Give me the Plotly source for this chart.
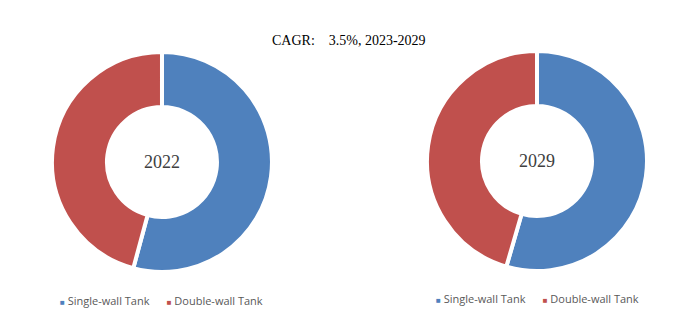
import plotly.graph_objects as go

categories = ["Single-wall Tank", "Double-wall Tank"]
values_2022 = [54.2, 45.8]
values_2029 = [54.5, 45.5]
years = ["2022", "2029"]
title_text = "CAGR:    3.5%, 2023-2029"
colors = ["#4F81BD", "#C0504D"]

serif = "Book Antiqua, Palatino Linotype, Liberation Serif, DejaVu Serif, serif"
sans = "Open Sans, Liberation Sans, sans-serif"

fig = go.Figure()
domains = [
    dict(x=[0.0746, 0.3902], y=[0.1553, 0.8385]),
    dict(x=[0.6126, 0.9283], y=[0.1584, 0.8416]),
]
legend_y = [1 - 300 / 322, 1 - 298 / 322]
for vals, dom, yr, ly in zip([values_2022, values_2029], domains, years, legend_y):
    fig.add_trace(go.Pie(
        labels=categories, values=vals, hole=0.5, sort=False,
        direction="clockwise", rotation=0, domain=dom,
        marker=dict(colors=colors, line=dict(color="white", width=4)),
        textinfo="none", hoverinfo="label+percent", showlegend=False,
    ))
    cx = (dom["x"][0] + dom["x"][1]) / 2
    cy = (dom["y"][0] + dom["y"][1]) / 2
    fig.add_annotation(x=cx, y=cy, xref="paper", yref="paper", text=yr,
                       xanchor="center", yanchor="middle",
                       showarrow=False, font=dict(family=serif, size=18, color="#404040"))
    legend_text = "      ".join(
        f"<span style='color:{c};font-size:8px'>■</span> {cat}" for c, cat in zip(colors, categories)
    )
    fig.add_annotation(x=cx, y=ly, xref="paper", yref="paper",
                       xanchor="center", yanchor="middle",
                       text=legend_text, showarrow=False,
                       font=dict(family=sans, size=11, color="#595959"))

fig.add_annotation(x=0.5, y=1 - 40 / 322, xref="paper", yref="paper", text=title_text,
                   xanchor="center", yanchor="middle",
                   showarrow=False, font=dict(family=serif, size=14, color="#000000"))

fig.update_layout(width=697, height=322, margin=dict(l=0, r=0, t=0, b=0),
                  paper_bgcolor="white", plot_bgcolor="white")
fig.write_html("out.html")
